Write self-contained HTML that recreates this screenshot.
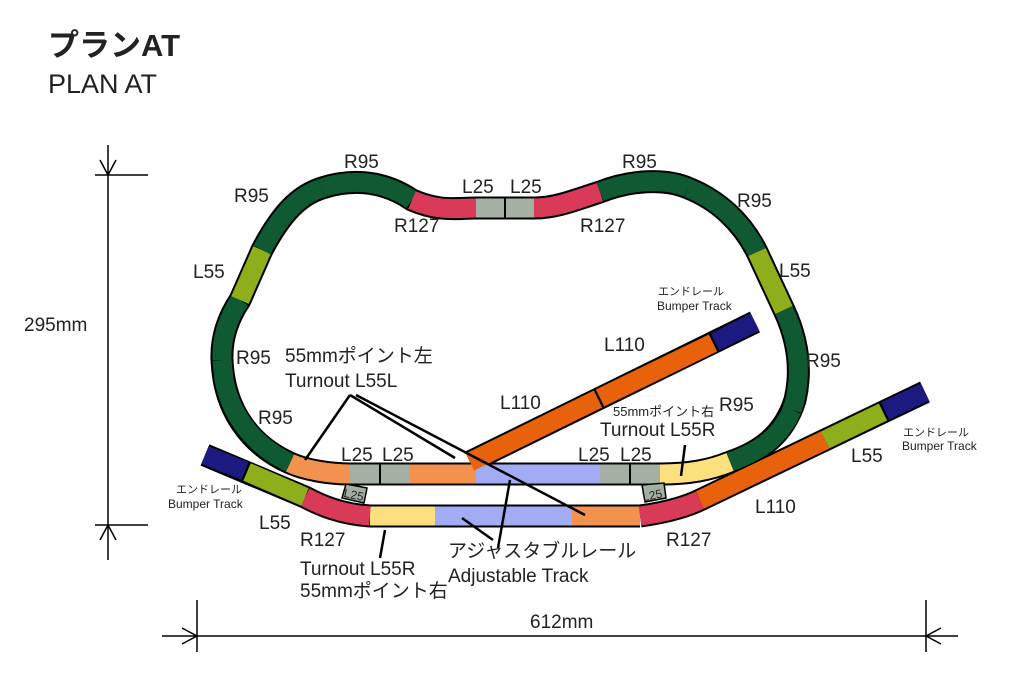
<!DOCTYPE html>
<html><head><meta charset="utf-8"><style>
html,body{margin:0;padding:0;background:#fff;}
svg{display:block;}
text{font-family:"Liberation Sans","Noto Sans CJK JP",sans-serif;fill:#222;}
</style></head><body>
<svg width="1033" height="700" viewBox="0 0 1033 700" xmlns="http://www.w3.org/2000/svg">
<text x="48" y="56" font-size="31" font-weight="bold" fill="#000">プランAT</text>
<text x="48" y="93" font-size="27" fill="#111">PLAN AT</text>

<g stroke="#000" stroke-width="1.5" fill="none">
<line x1="108" y1="145" x2="108" y2="560"/>
<line x1="95" y1="175" x2="148" y2="175"/>
<line x1="95" y1="525" x2="148" y2="525"/>
<polyline points="100,160 108,175 116,160"/>
<polyline points="100,540 108,525 116,540"/>
<line x1="162" y1="636" x2="958" y2="636"/>
<line x1="197" y1="600" x2="197" y2="652"/>
<line x1="926" y1="600" x2="926" y2="652"/>
<polyline points="182,628 197,636 182,644"/>
<polyline points="941,628 926,636 941,644"/>
</g>
<rect x="20" y="310" width="82" height="26" fill="#fff"/>
<text x="24" y="331" font-size="19">295mm</text>
<rect x="525" y="610" width="90" height="20" fill="#fff"/>
<text x="530" y="628" font-size="19">612mm</text>

<g fill="none" stroke-linecap="butt">
<g stroke="#000" stroke-width="23">
<path d="M470 474 L350 474 C330 474 305 470 290 463 C250 445 224 410 222 360 C221 335 230 315 240 300 L262 250 C282 212 300 195 322 188 C360 176 390 185 412 200 C440 212 456 208 476 208 L534 208 C556 208 575 200 600 192 C630 180 665 178 688 188 C718 200 742 222 757 252 L784 310 C798 340 802 370 795 400 C784 435 760 452 730 462 C710 470 690 474 660 474 L470 474"/>
<path d="M640 516 L370 516 C340 514 320 505 305 497 L205 455"/>
<path d="M640 516 C670 512 690 505 700 500 L925 392"/>
<path d="M470 462 L755 322"/>
</g>
<g stroke-width="19">
<path d="M350 474 C330 474 305 470 290 463" stroke="#f2924e"/>
<path d="M290 463 C258 448 232 420 224 380 L222 360" stroke="#0f5a33"/>
<path d="M222 360 C221 335 230 315 240 300" stroke="#0f5a33"/>
<path d="M240 300 L262 250" stroke="#8fae1b"/>
<path d="M262 250 C282 212 300 195 322 188" stroke="#0f5a33"/>
<path d="M322 188 C360 176 390 185 412 200" stroke="#0f5a33"/>
<path d="M412 200 C440 212 456 208 476 208" stroke="#d93a58"/>
<path d="M476 208 L504 208" stroke="#a3b0a3"/>
<path d="M506 208 L534 208" stroke="#a3b0a3"/>
<path d="M534 208 C556 208 575 200 600 192" stroke="#d93a58"/>
<path d="M600 192 C630 180 665 178 688 188" stroke="#0f5a33"/>
<path d="M688 188 C718 200 742 222 757 252" stroke="#0f5a33"/>
<path d="M757 252 L784 310" stroke="#8fae1b"/>
<path d="M784 310 C798 340 802 370 795 400 L792 410" stroke="#0f5a33"/>
<path d="M792 410 C780 438 758 452 730 462" stroke="#0f5a33"/>
<path d="M730 462 C710 470 690 474 660 474" stroke="#fde07e"/>
<path d="M660 474 L631 474" stroke="#a3b0a3"/>
<path d="M629 474 L600 474" stroke="#a3b0a3"/>
<path d="M600 474 L476 474" stroke="#a2acf5"/>
<path d="M476 474 L410 474" stroke="#f2924e"/>
<path d="M410 474 L381 474" stroke="#a3b0a3"/>
<path d="M379 474 L350 474" stroke="#a3b0a3"/>
<path d="M640 516 L572 516" stroke="#f2924e"/>
<path d="M572 516 L435 516" stroke="#a2acf5"/>
<path d="M435 516 L370 516" stroke="#fde07e"/>
<path d="M370 516 C340 514 320 505 305 497" stroke="#d93a58"/>
<path d="M305 497 L247 472" stroke="#8fae1b"/>
<path d="M245 471 L205 455" stroke="#1c1a80"/>
<path d="M640 516 C670 512 690 505 700 500" stroke="#d93a58"/>
<path d="M700 500 L825 440" stroke="#e8620c"/>
<path d="M825 440 L883 412" stroke="#8fae1b"/>
<path d="M885 411 L925 392" stroke="#1c1a80"/>
<path d="M470 462 L598 399" stroke="#e8620c"/>
<path d="M600 398 L713 343" stroke="#e8620c"/>
<path d="M715 342 L755 322" stroke="#1c1a80"/>
</g>
</g>
<g stroke="#000" stroke-width="1.5">
<polygon points="346,484 367,488 364,503 342,498" fill="#a3b0a3"/>
<polygon points="642,485 664,483 666,498 645,502" fill="#a3b0a3"/>
</g>
<text x="344" y="499" font-size="12" transform="rotate(12 354 494)" fill="#222">L25</text>
<text x="642" y="499" font-size="12" transform="rotate(-12 654 494)" fill="#222">L25</text>

<g stroke="#000" stroke-width="2.5">
<line x1="350" y1="395" x2="305" y2="460"/>
<line x1="350" y1="395" x2="455" y2="458"/>
<line x1="356" y1="395" x2="585" y2="515"/>
<line x1="510" y1="480" x2="498" y2="548"/>
<line x1="462" y1="518" x2="493" y2="540"/>
<line x1="385" y1="530" x2="380" y2="558"/>
<line x1="685" y1="445" x2="681" y2="476"/>
</g>

<g font-size="19">
<text x="344" y="168">R95</text>
<text x="234" y="202">R95</text>
<text x="462" y="193">L25</text>
<text x="510" y="193">L25</text>
<text x="394" y="232">R127</text>
<text x="580" y="232">R127</text>
<text x="622" y="168">R95</text>
<text x="737" y="207">R95</text>
<text x="193" y="278">L55</text>
<text x="779" y="277">L55</text>
<text x="236" y="364">R95</text>
<text x="806" y="367">R95</text>
<text x="258" y="424">R95</text>
<text x="719" y="411">R95</text>
<text x="604" y="351">L110</text>
<text x="500" y="409">L110</text>
<text x="285" y="362">55mmポイント左</text>
<text x="285" y="387">Turnout L55L</text>
<text x="341" y="461">L25</text>
<text x="382" y="461">L25</text>
<text x="578" y="461">L25</text>
<text x="620" y="461">L25</text>
<text x="600" y="436">Turnout L55R</text>
<text x="259" y="529">L55</text>
<text x="300" y="546">R127</text>
<text x="666" y="546">R127</text>
<text x="755" y="513">L110</text>
<text x="851" y="462">L55</text>
<text x="300" y="575">Turnout L55R</text>
<text x="300" y="597">55mmポイント右</text>
<text x="448" y="557">アジャスタブルレール</text>
<text x="448" y="582">Adjustable Track</text>
</g>
<g font-size="13">
<text x="613" y="416">55mmポイント右</text>
</g>
<g font-size="11">
<text x="658" y="295">エンドレール</text>
<text x="657" y="310" font-size="12">Bumper  Track</text>
<text x="903" y="436">エンドレール</text>
<text x="902" y="450" font-size="12">Bumper  Track</text>
<text x="176" y="493">エンドレール</text>
<text x="168" y="508" font-size="12">Bumper  Track</text>
</g>
</svg>
</body></html>
